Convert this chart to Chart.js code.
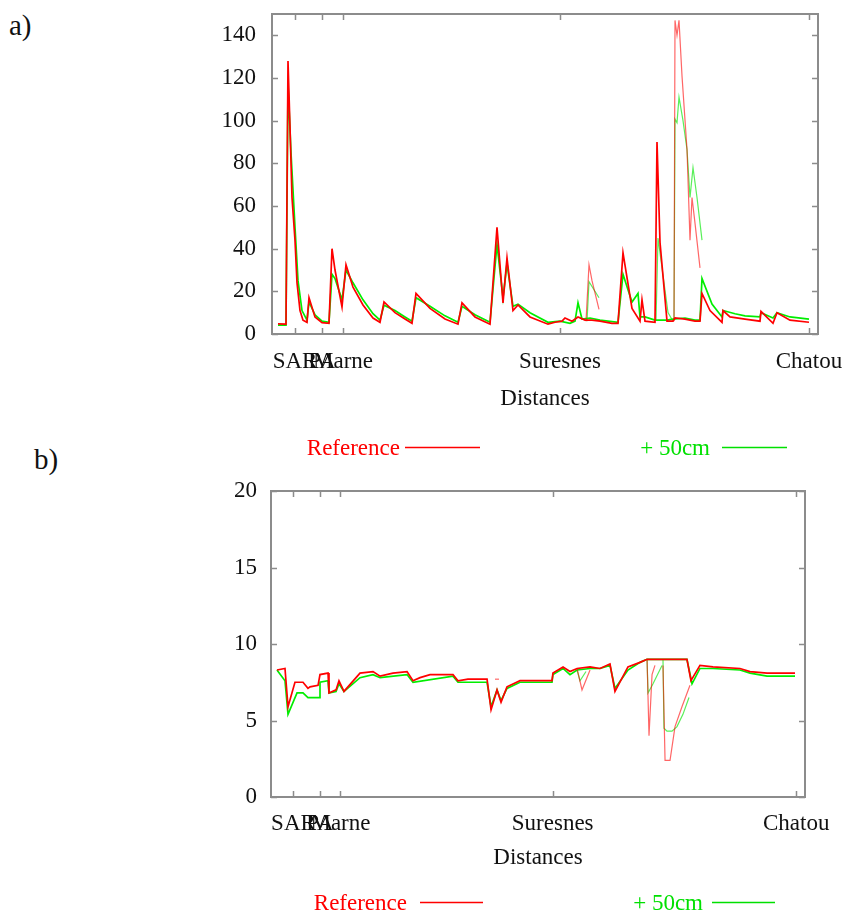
<!DOCTYPE html>
<html>
<head>
<meta charset="utf-8">
<script src="https://cdn.jsdelivr.net/npm/chart.js@4.4.0/dist/chart.umd.min.js"></script>
<style>
body { margin: 0; background: #fff; width: 845px; height: 913px; position: relative; overflow: hidden; font-family: "Liberation Serif", serif; }
.tag { position: absolute; font-size: 29px; color: #111; line-height: 1; }
#c1 { position: absolute; left: 0; top: 0; }
#c2 { position: absolute; left: 0; top: 470px; }
</style>
</head>
<body>
<div class="tag" style="left:9px;top:11px">a)</div>
<div class="tag" style="left:34px;top:445px">b)</div>
<canvas id="c1" width="845" height="470"></canvas>
<canvas id="c2" width="845" height="443"></canvas>
<script>
// distances along the river (same unit on both panels)
var xTickPos = [23, 50, 71, 288, 537];
var xTickNames = ['SAR', 'PA', 'Marne', 'Suresnes', 'Chatou'];
var yTicksTop = [0, 20, 40, 60, 80, 100, 120, 140];
var yTicksBot = [0, 5, 10, 15, 20];

// a) top panel, [distance, value]
var topRef = [[6,4.7],[14,4.6],[16,128],[18,97],[20,64],[23,44],[25,24],[28,11],[31,6.5],[35,5.5],[37,17],[43,8],[50,5.3],[57,5],[60,40],[63,30],[70,12.7],[74,32.5],[81,22],[91,13.6],[101,7.5],[108,5.5],[112,15],[123,10],[133,7],[140,5],[144,19],[158,12],[173,7],[186,4.6],[190,14.6],[203,8],[218,4.6],[225,50],[231,14.6],[235,35.7],[241,11],[246,13.6],[258,8],[276,4.6],[283,5.5],[290,6],[293,7.5],[300,6],[306,8],[313,6.5],[320,6.5],[328,6],[340,5],[346,5],[351,38],[360,12],[368,6],[370,16],[373,6],[383,5.5],[385,90],[388,43],[395,6],[401,6],[403,7.5],[413,7],[423,6],[428,6],[430,19],[438,11],[450,5.5],[451,11],[458,8],[473,7],[488,6],[489,10.6],[501,5],[505,10],[518,6.5],[537,5.5]];
var topPlus = [[6,4.2],[14,4.2],[16,117],[19,85],[23,50],[26,25],[30,11],[35,6.5],[37,15],[43,9],[50,6],[57,5.5],[60,28],[63,26],[70,16],[74,30],[81,24],[91,16],[101,9.5],[108,6.5],[112,13.5],[123,11],[133,8],[140,6],[144,17],[158,13],[173,8.5],[186,5.5],[190,13],[203,9],[218,5.5],[225,42],[231,17],[235,33],[241,13],[246,14],[258,10],[276,5.5],[288,6],[298,5],[303,6],[306,14.6],[310,7],[318,7.5],[328,6.5],[346,5.5],[351,28],[360,15],[366,19],[368,8],[373,8],[383,6.5],[395,6.5],[401,7],[413,7.5],[423,6.5],[428,6.5],[430,26],[440,14],[450,8],[451,11],[463,9.5],[473,8.5],[488,8],[489,10],[501,7.5],[505,10],[518,8],[537,7]];
var topRefArm1 = [[314,6],[317,32.5],[320,25],[327,11.5]];
var topRefArm2 = [[402,6],[403,147],[405,140],[407,147],[410,121],[415,86.5],[418,44],[420,64],[423,52],[428,31]];
var topPlusArm1 = [[315,6],[317,24.5],[327,17]];
var topPlusArm2 = [[402,7],[403,100.7],[405,99],[407,111],[411,100],[415,86.5],[418,64],[421,78],[425,64],[430,44]];
var topPlusArm3 = [[384,6.5],[386,45],[396,10],[401,6]];

// b) bottom panel, [distance, value]
var botRef = [[6.1,8.3],[14.3,8.4],[15.3,7.6],[17.4,5.9],[24.5,7.5],[32.7,7.5],[37.8,7.1],[39.9,7.2],[48.1,7.3],[50.1,8.0],[58.3,8.1],[59.3,6.8],[66.5,7.0],[69.5,7.6],[74.6,6.9],[91.0,8.1],[104.3,8.2],[111.5,7.9],[124.7,8.1],[139.1,8.2],[145.2,7.6],[152.4,7.8],[162.6,8.0],[186.1,8.0],[191.2,7.6],[201.4,7.7],[220.9,7.7],[225.0,5.7],[231.1,7.0],[235.2,6.2],[241.3,7.2],[254.6,7.6],[287.3,7.6],[288.3,8.1],[298.6,8.5],[305.7,8.2],[312.9,8.4],[326.2,8.5],[336.4,8.4],[346.6,8.7],[351.7,6.9],[365.0,8.5],[377.3,8.8],[384.5,9.0],[425.3,9.0],[429.4,7.6],[438.6,8.6],[451.9,8.5],[479.5,8.4],[489.8,8.2],[507.2,8.1],[535.8,8.1]];
var botPlus = [[6.1,8.3],[14.3,7.6],[17.4,5.4],[26.6,6.8],[32.7,6.8],[37.8,6.5],[49.1,6.5],[50.1,7.5],[58.3,7.6],[59.3,6.8],[66.5,6.9],[69.5,7.4],[74.6,6.9],[91.0,7.8],[104.3,8.0],[111.5,7.8],[139.1,8.0],[145.2,7.5],[186.1,7.9],[191.2,7.5],[220.9,7.5],[225.0,5.9],[231.1,7.0],[235.2,6.3],[241.3,7.1],[254.6,7.5],[287.3,7.5],[288.3,8.0],[298.6,8.4],[305.7,8.0],[312.9,8.3],[326.2,8.4],[336.4,8.4],[346.6,8.6],[351.7,7.1],[365.0,8.3],[377.3,8.8],[384.5,9.0],[425.3,9.0],[430.5,7.4],[438.6,8.4],[451.9,8.4],[479.5,8.3],[489.8,8.1],[507.2,7.9],[535.8,7.9]];
var botRefArm1 = [[384.5,9.0],[386.5,4.0],[389.6,8.0],[392.6,8.6]];
var botRefArm2 = [[400.8,8.6],[402.9,2.4],[408.0,2.4],[413.1,4.6],[420.2,5.9],[428.4,7.3]];
var botRefArm3 = [[312.9,8.4],[318.0,7.0],[326.2,8.3]];
var botRefArm4 = [[229.0,7.7],[233.1,7.7]];
var botPlusArm1 = [[384.5,9.0],[385.5,6.8],[390.6,7.4],[399.8,8.6]];
var botPlusArm2 = [[400.8,9.0],[401.8,4.5],[404.9,4.3],[410.0,4.3],[415.1,4.6],[421.2,5.4],[427.4,6.5]];
var botPlusArm3 = [[312.9,8.3],[315.9,7.6],[322.1,8.2]];

var RED = '#ff0000';
var GREEN = '#00ee00';
var FONT = 'Liberation Serif';

Chart.defaults.color = '#111';
Chart.defaults.font.family = FONT;

function line(arr, color, w) {
	return {
		data: arr.map(p => ({ x: p[0], y: p[1] })),
		borderColor: color,
		borderWidth: w,
		pointRadius: 0,
		fill: false,
		tension: 0
	};
}

// gnuplot-like frame with inward ticks on all four sides, and the key
var gpFrame = {
	id: 'gpFrame',
	afterDraw(chart, args, opts) {
		var ctx = chart.ctx;
		var a = chart.chartArea;
		var sx = chart.scales.x, sy = chart.scales.y;
		ctx.save();
		ctx.strokeStyle = '#8c8c8c';
		ctx.lineWidth = 1.5;
		ctx.beginPath();
		sx.ticks.forEach(t => {
			var px = Math.round(sx.getPixelForValue(t.value)) + 0.5;
			ctx.moveTo(px, a.bottom); ctx.lineTo(px, a.bottom - 6);
			ctx.moveTo(px, a.top); ctx.lineTo(px, a.top + 6);
		});
		sy.ticks.forEach(t => {
			var py = Math.round(sy.getPixelForValue(t.value)) + 0.5;
			ctx.moveTo(a.left, py); ctx.lineTo(a.left + 6, py);
			ctx.moveTo(a.right, py); ctx.lineTo(a.right - 6, py);
		});
		ctx.stroke();
		ctx.lineWidth = 2;
		ctx.strokeRect(a.left, a.top, a.right - a.left, a.bottom - a.top);

		ctx.font = '23px "' + FONT + '"';
		ctx.textAlign = 'right';
		ctx.textBaseline = 'middle';
		opts.items.forEach(it => {
			ctx.fillStyle = it.color;
			ctx.fillText(it.text, it.tx, opts.y + 2);
			ctx.strokeStyle = it.color;
			ctx.lineWidth = 1.3;
			ctx.beginPath();
			ctx.moveTo(it.x0, opts.y + 0.5);
			ctx.lineTo(it.x1, opts.y + 0.5);
			ctx.stroke();
		});
		ctx.restore();
	}
};

function makeChart(id, datasets, yTicks, yMax, box) {
	var ctx = document.getElementById(id).getContext('2d');
	return new Chart(ctx, {
		type: 'line',
		data: { datasets: datasets },
		plugins: [gpFrame],
		options: {
			responsive: false,
			animation: false,
			devicePixelRatio: 1,
			layout: { padding: box.padding },
			plugins: {
				legend: { display: false },
				tooltip: { enabled: false },
				gpFrame: box.key
			},
			scales: {
				x: {
					type: 'linear',
					min: 0,
					max: 546,
					grid: { display: false },
					border: { display: false },
					afterBuildTicks: s => { s.ticks = xTickPos.map(v => ({ value: v })); },
					afterFit: s => { s.height = box.xh; s.paddingLeft = 0; s.paddingRight = 0; },
					ticks: {
						autoSkip: false,
						maxRotation: 0,
						minRotation: 0,
						padding: box.xpad,
						font: { size: 23, lineHeight: 1.2 },
						callback: (v, i) => xTickNames[i]
					},
					title: {
						display: true,
						text: 'Distances',
						padding: 0,
						font: { size: 23, lineHeight: 1.2 }
					}
				},
				y: {
					min: 0,
					max: yMax,
					grid: { display: false },
					border: { display: false },
					afterBuildTicks: s => { s.ticks = yTicks.map(v => ({ value: v })); },
					afterFit: s => { s.width = box.yw; s.paddingTop = 0; s.paddingBottom = 0; },
					ticks: {
						padding: box.ypad,
						font: { size: 23, lineHeight: 1.2 }
					}
				}
			}
		}
	});
}

makeChart('c1', [
	line(topRef, RED, 1.7),
	line(topRefArm1, 'rgba(255,0,0,0.6)', 1.2),
	line(topRefArm2, 'rgba(255,0,0,0.6)', 1.2),
	line(topPlus, GREEN, 1.7),
	line(topPlusArm1, 'rgba(0,230,0,0.65)', 1.2),
	line(topPlusArm2, 'rgba(0,230,0,0.65)', 1.2),
	line(topPlusArm3, 'rgba(0,230,0,0.65)', 1.2)
], yTicksTop, 150, {
	padding: { left: 0, right: 27, top: 14, bottom: 57 },
	yw: 272, xh: 79, xpad: 6, ypad: 8,
	key: {
		y: 447,
		items: [
			{ text: 'Reference', color: RED, tx: 400, x0: 405, x1: 480 },
			{ text: '+ 50cm', color: '#00e000', tx: 710, x0: 722, x1: 787 }
		]
	}
});

makeChart('c2', [
	line(botRef, RED, 1.7),
	line(botRefArm1, 'rgba(255,0,0,0.6)', 1.2),
	line(botRefArm2, 'rgba(255,0,0,0.6)', 1.2),
	line(botRefArm3, 'rgba(255,0,0,0.6)', 1.2),
	line(botRefArm4, 'rgba(255,0,0,0.6)', 1.2),
	line(botPlus, GREEN, 1.7),
	line(botPlusArm1, 'rgba(0,230,0,0.65)', 1.2),
	line(botPlusArm2, 'rgba(0,230,0,0.65)', 1.2),
	line(botPlusArm3, 'rgba(0,230,0,0.65)', 1.2)
], yTicksBot, 20, {
	padding: { left: 0, right: 40, top: 21, bottom: 41 },
	yw: 271, xh: 75, xpad: 5, ypad: 6,
	key: {
		y: 432,
		items: [
			{ text: 'Reference', color: RED, tx: 407, x0: 420, x1: 483 },
			{ text: '+ 50cm', color: '#00e000', tx: 703, x0: 712, x1: 775 }
		]
	}
});
</script>
</body>
</html>
